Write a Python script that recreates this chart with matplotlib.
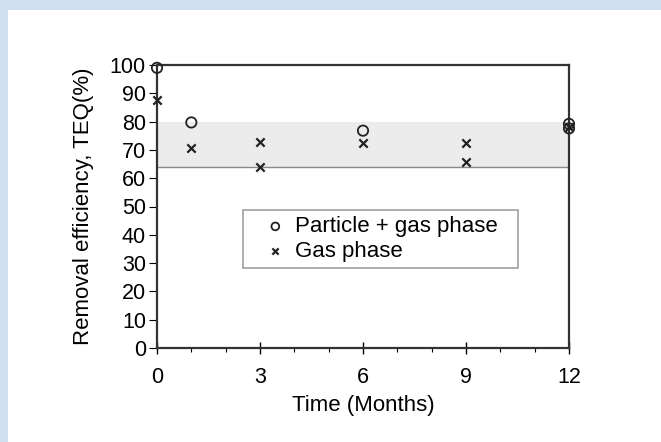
import numpy as np
import matplotlib.pyplot as plt
from matplotlib.patches import Rectangle

plt.rcParams['font.family'] = ['Liberation Sans', 'DejaVu Sans']

# Datos
meses_part = [0, 1, 6, 12, 12]
efic_part = [99, 79.7, 76.8, 79.2, 77.6]

meses_gas = [0, 1, 3, 3, 6, 9, 9, 12]
efic_gas = [87.6, 70.6, 72.9, 64.1, 72.6, 72.4, 65.8, 78.2]

banda = (64, 80)
xticks = [0, 3, 6, 9, 12]
yticks = list(range(0, 101, 10))

fig = plt.figure(figsize=(6.61, 4.42), dpi=100)
fig.patch.set_facecolor('#d0dff0')
# panel blanco interior
fig.patches.append(Rectangle((8 / 661, 0), 1, 1 - 10 / 442, transform=fig.transFigure,
                             facecolor='white', edgecolor='none', zorder=-5))

ax = fig.add_axes([157 / 661, 1 - 348 / 442, 412 / 661, 283 / 442])
ax.set_facecolor('white')

# banda sombreada
ax.axhspan(banda[0], banda[1], color='#ececec', zorder=1, lw=0)
ax.axhline(banda[0], color='#8a8a8a', lw=1.0, zorder=2)

ax.scatter(meses_part, efic_part, marker='o', s=55, facecolors='none',
           edgecolors='#222222', linewidths=1.3, zorder=4, clip_on=False,
           label='Particle + gas phase')
ax.scatter(meses_gas, efic_gas, marker='x', s=36, color='#222222',
           linewidths=1.6, zorder=4, clip_on=False, label='Gas phase')

ax.set_xlim(0, 12)
ax.set_ylim(0, 100)
ax.set_xticks(xticks)
ax.set_xticks(range(0, 13), minor=True)
ax.set_yticks(yticks)
ax.tick_params(axis='x', which='major', direction='inout', length=8, width=1,
               labelsize=15.5, pad=10)
ax.tick_params(axis='x', which='minor', direction='out', length=3, width=0.8)
ax.tick_params(axis='y', direction='out', length=6, width=0.8, labelsize=15.5, pad=2)
for s in ax.spines.values():
    s.set_linewidth(1.6)
    s.set_color('#333333')

ax.set_xlabel('Time (Months)', fontsize=16, labelpad=5)
ax.set_ylabel('Removal efficiency, TEQ(%)', fontsize=16, labelpad=11)

leg = ax.legend(loc='center', bbox_to_anchor=(0.209, 0.276, 0.667, 0.219),
                mode='expand', fontsize=16, frameon=True, fancybox=False,
                handletextpad=-0.25, handlelength=2.3, markerscale=0.75,
                borderpad=0.3, labelspacing=0.15, borderaxespad=0)
leg.get_frame().set_edgecolor('#888888')
leg.get_frame().set_linewidth(1.2)
leg.set_zorder(5)

plt.savefig('out.png', dpi=100, facecolor=fig.get_facecolor())
